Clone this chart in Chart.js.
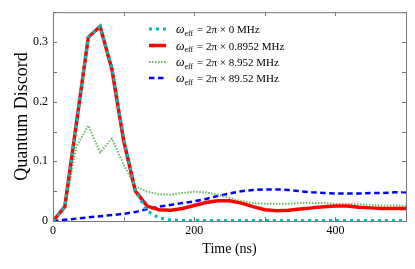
<!DOCTYPE html>
<html>
<head>
<meta charset="utf-8">
<script src="https://cdn.jsdelivr.net/npm/chart.js@4.4.1/dist/chart.umd.min.js"></script>
<style>
  html, body { margin: 0; padding: 0; background: #fff; }
  #wrap { width: 415px; height: 269px; }
</style>
</head>
<body>
<div id="wrap"><canvas id="chart" width="415" height="269"></canvas></div>
<script>
// time axis (ns)
const times = [0, 16.7, 33.3, 50, 66.7, 83.3, 100, 116.7, 133.3, 150, 166.7, 183.3, 200, 216.7, 233.3,
  250, 266.7, 283.3, 300, 316.7, 333.3, 350, 366.7, 383.3, 400, 416.7, 433.3, 450, 466.7, 483.3, 500];

// omega_eff = 2pi x 0 MHz
const discord0 = [0, 0.024, 0.165, 0.308, 0.326, 0.258, 0.14, 0.05, 0.017, 0.005, 0.002, 0.001, 0.001, 0.001, 0.001,
  0.001, 0.001, 0.001, 0.001, 0.001, 0.001, 0.001, 0.001, 0.001, 0.001, 0.001, 0.001, 0.001, 0.001, 0.001, 0.001];
// omega_eff = 2pi x 0.8952 MHz
const discord1 = [0, 0.024, 0.165, 0.308, 0.326, 0.255, 0.135, 0.05, 0.025, 0.019, 0.018, 0.021, 0.026, 0.031, 0.034,
  0.034, 0.030, 0.024, 0.019, 0.017, 0.018, 0.020, 0.022, 0.024, 0.025, 0.025, 0.023, 0.022, 0.021, 0.021, 0.021];
// omega_eff = 2pi x 8.952 MHz
const discord2 = [0, 0.024, 0.125, 0.160, 0.115, 0.138, 0.095, 0.058, 0.049, 0.045, 0.044, 0.047, 0.049, 0.048, 0.044,
  0.039, 0.033, 0.030, 0.029, 0.029, 0.029, 0.030, 0.030, 0.030, 0.029, 0.029, 0.028, 0.027, 0.026, 0.026, 0.025];
// omega_eff = 2pi x 89.52 MHz
const discord3 = [0, 0.002, 0.004, 0.006, 0.008, 0.010, 0.012, 0.015, 0.020, 0.024, 0.027, 0.030, 0.033, 0.037, 0.042,
  0.046, 0.050, 0.052, 0.053, 0.053, 0.052, 0.050, 0.048, 0.047, 0.046, 0.046, 0.046, 0.047, 0.047, 0.048, 0.048];

const freqLabels = ['0', '0.8952', '8.952', '89.52'];
const xTickLabels = [0, 200, 400];
const yTickLabels = [0, 0.1, 0.2, 0.3];

const SERIF = '"Liberation Serif", "DejaVu Serif", serif';

function pts(vals) {
  return vals.map((v, i) => ({ x: times[i], y: v }));
}

const datasets = [
  { label: freqLabels[0], data: pts(discord0), borderColor: '#00BFBF', borderWidth: 3, borderDash: [3, 4] },
  { label: freqLabels[1], data: pts(discord1), borderColor: '#FF0000', borderWidth: 3.5, borderDash: [] },
  { label: freqLabels[2], data: pts(discord2), borderColor: '#66BB5E', borderWidth: 2, borderDash: [1.5, 1.5] },
  { label: freqLabels[3], data: pts(discord3), borderColor: '#0000FF', borderWidth: 2.5, borderDash: [5.5, 3.5] }
];
datasets.forEach(d => { d.pointRadius = 0; d.tension = 0; d.fill = false; });

// frame with inward ticks on all four sides
const framePlugin = {
  id: 'frame',
  afterDatasetsDraw(chart) {
    const { ctx, chartArea: a, scales: { x, y } } = chart;
    ctx.save();
    ctx.strokeStyle = '#777';
    ctx.lineWidth = 1;
    ctx.strokeRect(a.left + 0.5, a.top + 0.5, a.right - a.left, a.bottom - a.top);
    ctx.beginPath();
    for (const t of x.ticks) {
      const px = Math.round(x.getPixelForValue(t.value)) + 0.5;
      ctx.moveTo(px, a.bottom); ctx.lineTo(px, a.bottom - 4);
      ctx.moveTo(px, a.top); ctx.lineTo(px, a.top + 4);
    }
    for (const t of y.ticks) {
      const py = Math.round(y.getPixelForValue(t.value)) + 0.5;
      ctx.moveTo(a.left, py); ctx.lineTo(a.left + 4, py);
      ctx.moveTo(a.right, py); ctx.lineTo(a.right - 4, py);
    }
    ctx.stroke();
    ctx.restore();
  }
};

// legend with subscripted omega_eff
const legendPlugin = {
  id: 'mathLegend',
  afterDraw(chart) {
    const ctx = chart.ctx;
    const rows = [29, 45.5, 62, 78];
    ctx.save();
    chart.data.datasets.forEach((ds, i) => {
      const yy = rows[i];
      ctx.strokeStyle = ds.borderColor;
      ctx.lineWidth = ds.borderWidth;
      ctx.setLineDash(ds.borderDash);
      ctx.beginPath();
      ctx.moveTo(149, yy);
      ctx.lineTo(166, yy);
      ctx.stroke();
      ctx.setLineDash([]);

      ctx.fillStyle = '#000';
      ctx.textBaseline = 'alphabetic';
      let tx = 176;
      const base = yy + 4;
      ctx.font = 'italic 12px ' + SERIF;
      ctx.fillText('ω', tx, base);
      tx += ctx.measureText('ω').width;
      ctx.font = '8px ' + SERIF;
      ctx.fillText('eff', tx, base + 2.5);
      tx += ctx.measureText('eff').width + 1;
      ctx.font = '11px ' + SERIF;
      ctx.fillText(' = 2π × ' + ds.label + ' MHz', tx, base);
    });
    ctx.restore();
  }
};

new Chart(document.getElementById('chart'), {
  type: 'line',
  data: { datasets },
  options: {
    responsive: false,
    animation: false,
    devicePixelRatio: 1,
    layout: { padding: { left: 0, top: 8, right: 9, bottom: 0 } },
    plugins: { legend: { display: false }, tooltip: { enabled: false } },
    scales: {
      x: {
        type: 'linear', min: 0, max: 500,
        afterFit(scale) { scale.height = 48; },
        grid: { display: false, drawTicks: false },
        border: { display: false },
        ticks: {
          stepSize: 100, padding: 3, maxRotation: 0, autoSkip: false,
          color: '#000', font: { family: SERIF, size: 12 },
          callback: v => xTickLabels.includes(v) ? String(v) : ''
        },
        title: {
          display: true, text: 'Time (ns)', color: '#000',
          font: { family: SERIF, size: 14, lineHeight: 1.2 },
          padding: { top: 0, bottom: 11 }
        }
      },
      y: {
        min: 0, max: 0.35,
        afterFit(scale) { scale.width = 53; },
        grid: { display: false, drawTicks: false },
        border: { display: false },
        ticks: {
          stepSize: 0.05, padding: 5, autoSkip: false,
          color: '#000', font: { family: SERIF, size: 12 },
          callback: v => {
            const r = Math.round(v * 100) / 100;
            if (!yTickLabels.includes(r)) return '';
            return r === 0 ? '0' : r.toFixed(1);
          }
        },
        title: {
          display: true, text: 'Quantum Discord', color: '#000',
          font: { family: SERIF, size: 18, lineHeight: 1.2 },
          padding: { top: 11, bottom: 0 }
        }
      }
    }
  },
  plugins: [framePlugin, legendPlugin]
});
</script>
</body>
</html>
